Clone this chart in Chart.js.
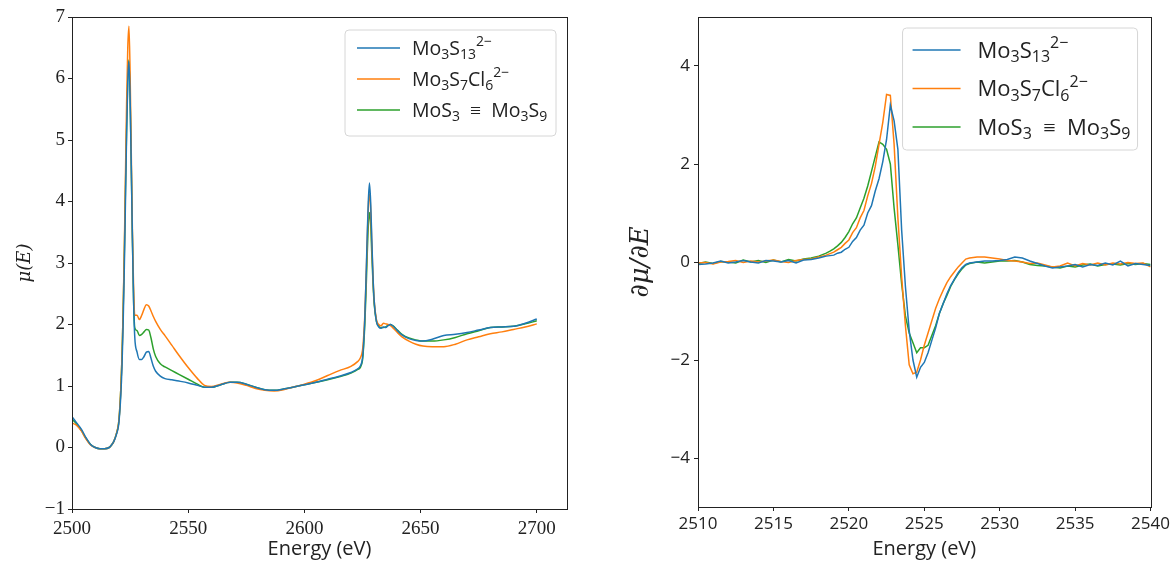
<!DOCTYPE html>
<html><head><meta charset="utf-8">
<script src="https://cdn.jsdelivr.net/npm/chart.js@4.4.0/dist/chart.umd.min.js"></script>
<style>
html,body{margin:0;padding:0;background:#fff;width:1173px;height:562px;overflow:hidden}
#wl{position:absolute;left:0;top:0;width:580px;height:562px}
#wr{position:absolute;left:590px;top:0;width:583px;height:562px}
</style></head><body>
<div id="wl"><canvas id="cl" width="580" height="562"></canvas></div>
<div id="wr"><canvas id="cr" width="583" height="562"></canvas></div>
<script>
// ---------- DATA ----------
const seriesLabels = ['Mo_{3}S_{13}^{2−}', 'Mo_{3}S_{7}Cl_{6}^{2−}', 'MoS_{3} ≡ Mo_{3}S_{9}'];
const seriesNames = ['Mo₃S₁₃²⁻', 'Mo₃S₇Cl₆²⁻', 'MoS₃ ≡ Mo₃S₉'];

// Left: XANES mu(E)
const energyXanes = [
  2500,2502,2504,2506,2508,2510,2512,2514,2516,2517,2518,2519,
  2520,2520.5,2521,2521.5,2522,2522.5,2523,2523.5,2524,2524.5,2525,2525.5,2526,2526.5,2527,
  2528,2529,2530,2531,2532,2533,2534,2535,2536,2538,2540,2543,2546,2550,2554,2557,
  2560,2564,2568,2571,2575,2579,2583,2587,2591,2595,2600,2605,2610,2615,2620,2623,2624,
  2625,2625.5,2626,2626.5,2627,2627.5,2628,2628.5,2629,2629.5,2630,2631,2632,2633,
  2634,2635,2636,2637,2638,2640,2642,2645,2648,2651,2655,2660,2665,2670,2675,2680,2685,2690,2695,2700
];
const muMo3S13 = [
  0.50,0.40,0.30,0.16,0.05,0.00,-0.02,-0.02,0.00,0.04,0.10,0.20,
  0.35,0.55,0.85,1.3,2.0,2.9,4.0,5.1,5.95,6.28,5.7,4.6,3.4,2.4,1.8,
  1.55,1.43,1.43,1.48,1.55,1.56,1.45,1.32,1.24,1.16,1.12,1.10,1.08,1.05,1.01,0.98,
  0.98,1.02,1.06,1.06,1.03,0.98,0.94,0.93,0.95,0.98,1.02,1.06,1.11,1.16,1.22,1.28,1.32,
  1.45,1.7,2.1,2.7,3.4,4.0,4.3,4.0,3.4,2.8,2.4,2.05,1.96,1.94,
  1.96,1.95,1.98,2.0,1.98,1.9,1.83,1.77,1.74,1.73,1.76,1.82,1.84,1.87,1.91,1.95,1.96,1.97,2.02,2.09
];
const muMo3S7Cl6 = [
  0.40,0.36,0.27,0.14,0.04,0.00,-0.02,-0.02,0.00,0.04,0.10,0.21,
  0.38,0.6,0.95,1.45,2.2,3.2,4.4,5.6,6.5,6.85,6.1,4.8,3.5,2.6,2.15,
  2.15,2.08,2.15,2.25,2.32,2.30,2.22,2.13,2.05,1.92,1.82,1.66,1.50,1.30,1.12,1.01,
  0.99,1.03,1.06,1.05,1.01,0.96,0.93,0.92,0.94,0.98,1.03,1.09,1.17,1.25,1.32,1.40,1.45,
  1.58,1.8,2.15,2.7,3.3,3.9,4.12,3.9,3.3,2.8,2.4,2.08,2.0,1.98,
  2.02,2.01,2.0,1.98,1.95,1.87,1.80,1.73,1.68,1.65,1.64,1.64,1.68,1.75,1.80,1.85,1.88,1.92,1.96,2.01
];
const muMoS3 = [
  0.46,0.38,0.28,0.15,0.05,0.00,-0.02,-0.02,0.00,0.04,0.10,0.21,
  0.38,0.6,0.95,1.45,2.2,3.1,4.2,5.2,6.0,6.3,5.7,4.6,3.4,2.4,1.95,
  1.90,1.82,1.84,1.88,1.92,1.91,1.78,1.60,1.48,1.36,1.31,1.25,1.19,1.11,1.03,0.98,
  0.98,1.02,1.06,1.06,1.03,0.98,0.94,0.93,0.95,0.98,1.02,1.06,1.10,1.15,1.21,1.27,1.30,
  1.42,1.65,2.0,2.5,3.1,3.6,3.82,3.65,3.15,2.7,2.35,2.05,1.97,1.95,
  1.95,1.96,1.99,2.0,1.98,1.91,1.84,1.78,1.75,1.73,1.73,1.75,1.79,1.85,1.90,1.95,1.96,1.97,2.01,2.06
];
const xanesXTicks = [2500, 2550, 2600, 2650, 2700];
const xanesYTicks = [-1, 0, 1, 2, 3, 4, 5, 6, 7];

// Right: derivative dmu/dE
const energyDeriv = [
  2510,2510.5,2511,2511.5,2512,2512.5,2513,2513.5,2514,2514.5,2515,2515.5,2516,2516.5,2517,2517.5,
  2518,2518.25,2518.5,2518.75,2519,2519.25,2519.5,2519.75,2520,2520.25,2520.5,2520.75,
  2521,2521.25,2521.5,2521.75,2522,2522.25,2522.5,2522.75,2523,2523.25,2523.5,2523.75,
  2524,2524.25,2524.5,2524.75,2525,2525.25,2525.5,2525.75,2526,2526.25,2526.5,2526.75,
  2527,2527.25,2527.5,2527.75,2528,
  2528.5,2529,2529.5,2530,2530.5,2531,2531.5,2532,2532.5,2533,2533.5,2534,
  2534.5,2535,2535.5,2536,2536.5,2537,2537.5,2538,2538.5,2539,2539.5,2540
];
const dMo3S13 = [
  -0.05,-0.04,-0.02,0.02,-0.02,0.0,0.03,0.0,-0.02,0.03,0.02,0.0,0.03,-0.02,0.04,0.05,
  0.08,0.10,0.12,0.13,0.14,0.18,0.20,0.26,0.30,0.42,0.50,0.65,
  0.75,1.0,1.15,1.45,1.7,2.05,2.5,3.2,2.88,2.3,0.65,-0.5,
  -1.4,-2.0,-2.35,-2.15,-2.05,-1.85,-1.6,-1.35,-1.05,-0.85,-0.65,-0.48,
  -0.35,-0.22,-0.12,-0.05,-0.02,
  0.0,0.02,0.02,0.03,0.05,0.10,0.08,0.02,-0.03,-0.08,-0.12,-0.10,
  -0.08,-0.05,-0.10,-0.05,-0.07,-0.02,-0.06,0.02,-0.08,-0.03,-0.05,-0.07
];
const dMo3S7Cl6 = [
  -0.02,-0.01,-0.04,0.0,0.01,0.03,-0.01,0.02,0.0,0.02,0.04,0.01,-0.01,0.03,0.05,0.06,
  0.10,0.12,0.14,0.17,0.20,0.25,0.30,0.38,0.45,0.60,0.70,0.90,
  1.05,1.35,1.6,1.95,2.4,2.85,3.42,3.4,2.4,0.9,-0.3,-1.3,
  -2.1,-2.28,-2.25,-2.0,-1.7,-1.45,-1.2,-0.95,-0.75,-0.58,-0.42,-0.30,
  -0.20,-0.10,-0.02,0.06,0.08,
  0.10,0.10,0.08,0.06,0.03,0.02,0.0,-0.03,-0.02,-0.06,-0.10,-0.08,
  -0.02,-0.08,-0.03,-0.06,-0.02,-0.06,-0.02,-0.04,-0.01,-0.03,-0.02,-0.10
];
const dMoS3 = [
  -0.03,0.0,-0.03,0.01,0.0,-0.02,0.04,0.0,0.03,-0.01,0.04,0.0,0.05,0.02,0.06,0.08,
  0.12,0.15,0.18,0.22,0.27,0.33,0.40,0.50,0.62,0.78,0.90,1.10,
  1.30,1.55,1.85,2.15,2.45,2.40,2.30,2.0,1.1,0.35,-0.45,-1.1,
  -1.45,-1.65,-1.85,-1.75,-1.75,-1.7,-1.5,-1.3,-1.05,-0.85,-0.68,-0.50,
  -0.36,-0.24,-0.14,-0.06,-0.03,
  0.0,-0.02,0.0,0.02,0.02,0.03,0.0,-0.05,-0.07,-0.08,-0.10,-0.12,
  -0.08,-0.10,-0.06,-0.04,-0.08,-0.05,-0.04,-0.06,-0.03,-0.05,-0.03,-0.05
];
const derivXTicks = [2510, 2515, 2520, 2525, 2530, 2535, 2540];
const derivYTicks = [-4, -2, 0, 2, 4];

// ---------- STYLE ----------
const colors = ['#1f77b4', '#ff7f0e', '#2ca02c'];
const INK = '#222';

function pts(xs, ys) { return xs.map((x, i) => ({ x: x, y: ys[i] })); }
function fmt(v) { return String(v).replace('-', '\u2212'); }

const framePlugin = {
  id: 'frame',
  afterDatasetsDraw(chart) {
    const { ctx, chartArea: a } = chart;
    ctx.save();
    ctx.strokeStyle = INK; ctx.lineWidth = 1;
    ctx.strokeRect(Math.round(a.left) + 0.5, Math.round(a.top) + 0.5,
      Math.round(a.right - a.left), Math.round(a.bottom - a.top));
    ctx.restore();
  }
};

function parseRich(s) {
  const out = [];
  const re = /(_\{[^}]*\}|\^\{[^}]*\}|[^_^]+)/g;
  let m;
  while ((m = re.exec(s))) {
    const t = m[0];
    if (t[0] === '_') out.push({ t: t.slice(2, -1), k: 'sub' });
    else if (t[0] === '^') out.push({ t: t.slice(2, -1), k: 'sup' });
    else out.push({ t: t, k: 'n' });
  }
  return out;
}

const richLegend = {
  id: 'richLegend',
  afterDraw(chart, args, o) {
    const { ctx, chartArea: a } = chart;
    const fs = o.fontSize, fam = o.fontFamily;
    const sfs = Math.round(fs * 0.72);
    ctx.save();
    const rows = o.labels.map(parseRich);
    const x0 = a.right - o.right - o.width, y0 = a.top + o.top;
    const w = o.width, h = o.height;
    ctx.beginPath();
    const r = 4;
    ctx.moveTo(x0 + r, y0); ctx.lineTo(x0 + w - r, y0); ctx.quadraticCurveTo(x0 + w, y0, x0 + w, y0 + r);
    ctx.lineTo(x0 + w, y0 + h - r); ctx.quadraticCurveTo(x0 + w, y0 + h, x0 + w - r, y0 + h);
    ctx.lineTo(x0 + r, y0 + h); ctx.quadraticCurveTo(x0, y0 + h, x0, y0 + h - r);
    ctx.lineTo(x0, y0 + r); ctx.quadraticCurveTo(x0, y0, x0 + r, y0);
    ctx.closePath();
    ctx.fillStyle = 'rgba(255,255,255,0.85)'; ctx.fill();
    ctx.strokeStyle = '#d6d6d6'; ctx.lineWidth = 1; ctx.stroke();
    rows.forEach((row, i) => {
      const cy = y0 + o.firstRow + o.rowH * i;
      ctx.strokeStyle = colors[i]; ctx.lineWidth = 1.5;
      ctx.beginPath(); ctx.moveTo(x0 + o.padL, cy); ctx.lineTo(x0 + o.padL + o.lineLen, cy); ctx.stroke();
      let x = x0 + o.padL + o.lineLen + o.gap;
      ctx.fillStyle = INK; ctx.textBaseline = 'alphabetic'; ctx.textAlign = 'left';
      const base = cy + fs * 0.36;
      row.forEach(seg => {
        let y = base, f = fs;
        if (seg.k === 'sub') { f = sfs; y = base + fs * 0.2; }
        if (seg.k === 'sup') { f = sfs; y = base - fs * 0.45; }
        ctx.font = f + 'px ' + fam;
        let t = seg.t.replace(' ≡ ', '  ≡  ');
        ctx.fillText(t, x, y);
        x += ctx.measureText(t).width;
      });
    });
    ctx.restore();
  }
};

function makeDatasets(xs, arrs, smooth) {
  return arrs.map((ys, i) => ({
    label: seriesNames[i],
    data: pts(xs, ys),
    borderColor: colors[i],
    backgroundColor: colors[i],
    borderWidth: 1.5,
    pointRadius: 0,
    fill: false,
    cubicInterpolationMode: smooth ? 'monotone' : 'default',
    tension: 0
  }));
}

function axisCommon(tickFont, ticksArr, pad) {
  return {
    type: 'linear',
    border: { display: false },
    grid: { drawOnChartArea: false, drawTicks: true, tickLength: 4, color: INK, tickWidth: 1 },
    ticks: { font: tickFont, color: INK, padding: pad, autoSkip: false, maxRotation: 0, callback: fmt },
    afterBuildTicks: s => { s.ticks = ticksArr.map(v => ({ value: v })); }
  };
}

Chart.defaults.animation = false;
const SANS = "'Open Sans'";

// Left chart
new Chart(document.getElementById('cl'), {
  type: 'line',
  data: { datasets: makeDatasets(energyXanes, [muMo3S13, muMo3S7Cl6, muMoS3], true) },
  options: {
    responsive: false, animation: false, parsing: false,
    layout: { padding: { top: 17, right: 13, left: 0, bottom: 0 } },
    plugins: {
      legend: { display: false }, tooltip: { enabled: false },
      richLegend: { labels: seriesLabels, fontSize: 19.5, fontFamily: SANS, right: 11, top: 13,
        width: 211, height: 106, padL: 12, lineLen: 43, gap: 12, firstRow: 18, rowH: 31 }
    },
    scales: {
      x: Object.assign(axisCommon({ family: 'Liberation Serif', size: 19 }, xanesXTicks, 5), {
        min: 2500, max: 2713,
        title: { display: true, text: 'Energy (eV)', font: { family: SANS, size: 20 }, color: INK, padding: { top: 0, bottom: 1 } },
        afterFit: s => { s.height = 53; }
      }),
      y: Object.assign(axisCommon({ family: 'Liberation Serif', size: 19 }, xanesYTicks, 3), {
        min: -1, max: 7,
        title: { display: true, text: 'μ(E)', font: { family: 'DejaVu Serif', size: 18, style: 'italic' }, color: INK, padding: { top: 15, bottom: 0 } },
        afterFit: s => { s.width = 72; }
      })
    }
  },
  plugins: [framePlugin, richLegend]
});

// Right chart
new Chart(document.getElementById('cr'), {
  type: 'line',
  data: { datasets: makeDatasets(energyDeriv, [dMo3S13, dMo3S7Cl6, dMoS3], false) },
  options: {
    responsive: false, animation: false, parsing: false,
    layout: { padding: { top: 17, right: 18, left: 0, bottom: 0 } },
    plugins: {
      legend: { display: false }, tooltip: { enabled: false },
      richLegend: { labels: seriesLabels, fontSize: 22, fontFamily: SANS, right: 13, top: 11,
        width: 235, height: 122, padL: 10, lineLen: 48, gap: 17, firstRow: 22, rowH: 38.5 }
    },
    scales: {
      x: Object.assign(axisCommon({ family: SANS, size: 17 }, derivXTicks, 3), {
        min: 2510, max: 2540,
        title: { display: true, text: 'Energy (eV)', font: { family: SANS, size: 20 }, color: INK, padding: { top: 0, bottom: 1 } },
        afterFit: s => { s.height = 55; }
      }),
      y: Object.assign(axisCommon({ family: SANS, size: 17 }, derivYTicks, 4), {
        min: -5, max: 5,
        title: { display: true, text: '∂μ/∂E', font: { family: 'DejaVu Serif', size: 26, style: 'italic' }, color: INK, padding: { top: 36, bottom: 0 } },
        afterFit: s => { s.width = 108; }
      })
    }
  },
  plugins: [framePlugin, richLegend]
});
</script>
</body></html>
